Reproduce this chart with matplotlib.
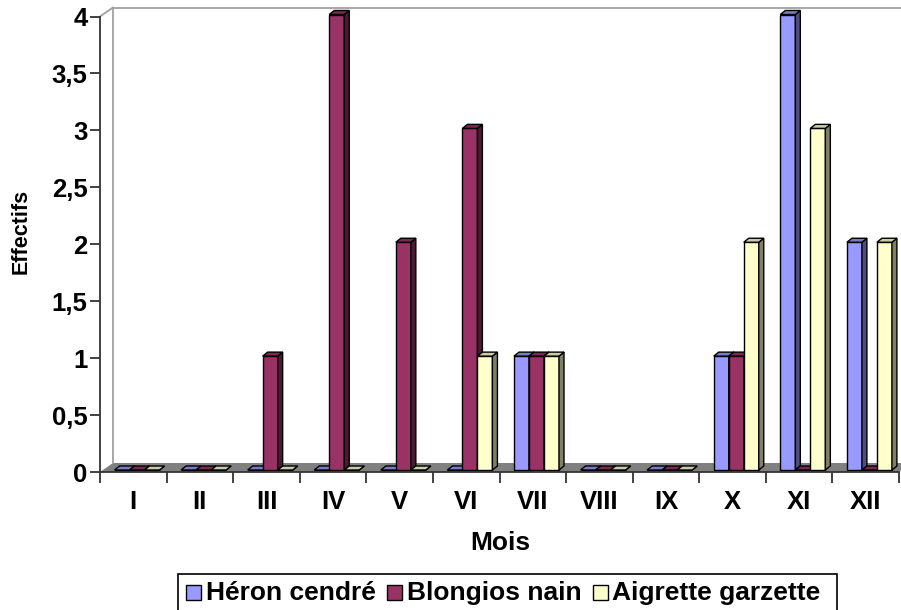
import numpy as np
import matplotlib.pyplot as plt
from matplotlib.patches import Polygon, Rectangle

plt.rcParams['font.family'] = ['Liberation Sans', 'DejaVu Sans']
plt.rcParams['font.weight'] = 'bold'

# Data
mois = ['I', 'II', 'III', 'IV', 'V', 'VI', 'VII', 'VIII', 'IX', 'X', 'XI', 'XII']
heron_cendre = [0, 0, 0, 0, 0, 0, 1, 0, 0, 1, 4, 2]
blongios_nain = [0, 0, 1, 4, 2, 3, 1, 0, 0, 1, 0, 0]
aigrette_garzette = [0, 0, 0, 0, 0, 1, 1, 0, 0, 2, 3, 2]
series_names = ['Héron cendré', 'Blongios nain', 'Aigrette garzette']
y_ticks = [0, 0.5, 1, 1.5, 2, 2.5, 3, 3.5, 4]
y_tick_labels = ['0', '0,5', '1', '1,5', '2', '2,5', '3', '3,5', '4']

colors = ['#9999FF', '#993366', '#FFFFCC']

W, H = 901, 610
fig = plt.figure(figsize=(W / 100, H / 100), dpi=100)

# front plane of the pseudo-3D box, in pixels
x_left, x_right = 100, 899
y_zero, y_top = 472, 16.5
ax = fig.add_axes([x_left / W, 1 - y_zero / H, (x_right - x_left) / W, (y_zero - y_top) / H])
ax.set_xlim(0, len(mois))
ax.set_ylim(0, 4)
px_x = len(mois) / (x_right - x_left)
px_y = 4 / (y_zero - y_top)

# floor and back wall
dx, dy = 13 * px_x, 9 * px_y
n = len(mois)
ax.add_patch(Polygon([(0, 0), (n, 0), (n + dx, dy), (dx, dy)], closed=True,
                     fc='#808080', ec='none', clip_on=False, zorder=1))
wall = dict(color='#A0A0A0', lw=1.3, clip_on=False, zorder=1.5)
ax.plot([dx, dx], [dy, 4 + dy], **wall)
ax.plot([dx, n + dx], [4 + dy, 4 + dy], **wall)
ax.plot([0, dx], [4, 4 + dy], **wall)

# bars with depth
bw = 15 * px_x
bdx, bdy = 5 * px_x, 4 * px_y
base = 2 * px_y
z = 2
for j, vals in enumerate([heron_cendre, blongios_nain, aigrette_garzette]):
    c = np.array(plt.matplotlib.colors.to_rgb(colors[j]))
    side_c, top_c = c * 0.5, c * 0.8
    for i, v in enumerate(vals):
        bx = i + (14.5 + 15 * j) * px_x
        kw = dict(ec='black', lw=1.0, clip_on=False, zorder=z)
        ax.add_patch(Rectangle((bx, base), bw, v, fc=colors[j], **kw))
        ax.add_patch(Polygon([(bx + bw, base), (bx + bw, base + v),
                              (bx + bw + bdx, base + v + bdy), (bx + bw + bdx, base + bdy)],
                             closed=True, fc=side_c, **kw))
        ax.add_patch(Polygon([(bx, base + v), (bx + bw, base + v),
                              (bx + bw + bdx, base + v + bdy), (bx + bdx, base + v + bdy)],
                             closed=True, fc=top_c, **kw))
        z += 0.01

for s in ['top', 'right']:
    ax.spines[s].set_visible(False)
for s in ['left', 'bottom']:
    ax.spines[s].set_color('#333333')
    ax.spines[s].set_linewidth(1.3)
    ax.spines[s].set_zorder(5)
ax.set_facecolor('none')

ax.set_yticks(y_ticks)
ax.set_yticklabels(y_tick_labels, fontsize=18.5, fontweight='bold')
ax.tick_params(axis='y', direction='out', length=7, width=1.3, color='#333333', pad=2)

ax.set_xticks(np.arange(n + 1))
ax.set_xticklabels([])
ax.tick_params(axis='x', which='major', direction='out', length=8, width=1.3, color='#333333')
ax.set_xticks(np.arange(n) + 0.5, minor=True)
ax.set_xticklabels(mois, minor=True, fontsize=18.5, fontweight='bold')
ax.tick_params(axis='x', which='minor', length=0, pad=13)

fig.text(500 / W, 1 - 543 / H, 'Mois', ha='center', va='center', fontsize=19, fontweight='bold')
fig.text(21 / W, 1 - 231 / H, 'Effectifs', ha='center', va='center', rotation=90,
         fontsize=15.5, fontweight='bold')

# legend (box runs off the bottom edge), entries chained left to right
def fx(x):
    return x / W

def fy(y):
    return 1 - y / H

fig.patches.append(Rectangle((fx(178), fy(616)), fx(837) - fx(178), fy(574) - fy(616),
                             transform=fig.transFigure, fc='white', ec='black', lw=1.2))
renderer = fig.canvas.get_renderer()
mx = 186
for j, name in enumerate(series_names):
    fig.patches.append(Rectangle((fx(mx), fy(600)), 15 / W, 15 / H,
                                 transform=fig.transFigure, fc=colors[j], ec='black', lw=1))
    t = fig.text(fx(mx + 20), fy(593), name, ha='left', va='center', fontsize=19,
                 fontweight='bold')
    mx = t.get_window_extent(renderer).x1 + 11

fig.savefig('out.png', dpi=100)
